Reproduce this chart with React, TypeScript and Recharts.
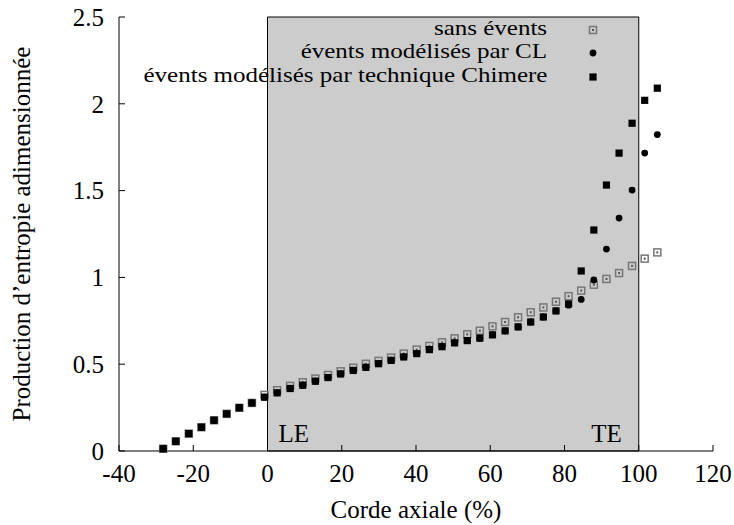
import {
  ScatterChart,
  Scatter,
  XAxis,
  YAxis,
  ReferenceArea,
  Legend,
} from "recharts";

const xs = [
  -28.1, -24.7, -21.2, -17.8, -14.4, -11.0, -7.6, -4.2, -0.8, 2.6,
  6.1, 9.5, 12.9, 16.3, 19.7, 23.1, 26.5, 29.9, 33.3, 36.7,
  40.2, 43.6, 47.0, 50.4, 53.8, 57.2, 60.6, 64.0, 67.5, 70.9,
  74.3, 77.7, 81.1, 84.5, 87.9, 91.3, 94.7, 98.2, 101.6, 105.0,
];

const sansEvents = [
  0.013, 0.056, 0.1, 0.137, 0.177, 0.214, 0.249, 0.277, 0.323, 0.35,
  0.375, 0.396, 0.417, 0.438, 0.459, 0.48, 0.502, 0.519, 0.538, 0.561,
  0.584, 0.605, 0.626, 0.649, 0.672, 0.693, 0.718, 0.743, 0.77, 0.799,
  0.827, 0.86, 0.892, 0.924, 0.958, 0.991, 1.025, 1.066, 1.108, 1.144,
];

const eventsCL = [
  0.013, 0.056, 0.1, 0.137, 0.177, 0.214, 0.249, 0.277, 0.31, 0.335,
  0.36, 0.379, 0.402, 0.423, 0.444, 0.464, 0.482, 0.503, 0.522, 0.542,
  0.561, 0.584, 0.601, 0.623, 0.636, 0.65, 0.669, 0.692, 0.715, 0.743,
  0.772, 0.807, 0.84, 0.873, 0.985, 1.163, 1.342, 1.503, 1.716, 1.823,
];

const eventsChimere = [
  0.013, 0.056, 0.1, 0.137, 0.177, 0.214, 0.249, 0.277, 0.31, 0.335,
  0.36, 0.379, 0.402, 0.423, 0.444, 0.464, 0.482, 0.503, 0.522, 0.542,
  0.561, 0.584, 0.601, 0.623, 0.636, 0.65, 0.669, 0.692, 0.715, 0.743,
  0.772, 0.807, 0.847, 1.037, 1.273, 1.532, 1.716, 1.888, 2.02, 2.09,
];

const seriesNames = [
  "sans évents",
  "évents modélisés par CL",
  "évents modélisés par technique Chimere",
];

const xTicks = [-40, -20, 0, 20, 40, 60, 80, 100, 120];
const yTicks = [0, 0.5, 1, 1.5, 2, 2.5];

const FONT = "Liberation Serif";
const FS = 25;

const toPoints = (ys: number[]) => xs.map((x, i) => ({ x, y: ys[i] }));

const OpenSquare = (p: any) => (
  <g>
    <rect x={p.cx - 3.5} y={p.cy - 3.5} width={7} height={7} fill="none" stroke="#777" strokeWidth={1.5} />
    <rect x={p.cx - 1} y={p.cy - 1} width={2} height={2} fill="#555" />
  </g>
);

const Dot = (p: any) => <circle cx={p.cx} cy={p.cy} r={3.4} fill="#000" />;

const FilledSquare = (p: any) => (
  <rect x={p.cx - 3.6} y={p.cy - 3.6} width={7.2} height={7.2} fill="#000" />
);

const markers = [OpenSquare, Dot, FilledSquare];
const rowY = [29.5, 53, 77];

// legend text: slightly smaller font stretched sideways, so rows don't collide
const renderLegend = () => (
  <div style={{ position: "relative", width: 734, height: 100, fontFamily: FONT, fontSize: 21, color: "#000" }}>
    {seriesNames.map((name, i) => {
      const M = markers[i];
      return (
        <div key={name}>
          <div
            style={{
              position: "absolute",
              right: 734 - 547,
              top: rowY[i] - 13,
              lineHeight: "23px",
              whiteSpace: "nowrap",
              transform: "scaleX(1.19)",
              transformOrigin: "right center",
            }}
          >
            {name}
          </div>
          <svg style={{ position: "absolute", left: 583, top: rowY[i] - 10 }} width={20} height={20}>
            <M cx={10} cy={10} />
          </svg>
        </div>
      );
    })}
  </div>
);

const AreaLabels = (props: any) => {
  const vb = props.viewBox;
  if (!vb) return null;
  const base = vb.y + vb.height - 9;
  return (
    <g fontFamily={FONT} fontSize={FS} fill="#000">
      <text x={vb.x + 11} y={base}>LE</text>
      <text x={vb.x + vb.width - 17} y={base} textAnchor="end">TE</text>
    </g>
  );
};

export default function App() {
  const tickStyle = { fontFamily: FONT, fontSize: FS, fill: "#000" };
  return (
    <div style={{ position: "absolute", left: 0, top: 0, background: "#fff" }}>
      <ScatterChart width={734} height={525} margin={{ top: 17, right: 21, bottom: 0, left: 0 }}>
        <XAxis
          xAxisId="b"
          type="number"
          dataKey="x"
          domain={[-40, 120]}
          ticks={xTicks}
          interval={0}
          height={74}
          tickSize={-6}
          tickMargin={19}
          tick={tickStyle}
          stroke="#000"
          label={{ value: "Corde axiale (%)", position: "insideBottom", offset: 7, style: { fontFamily: FONT, fontSize: FS, fill: "#000" } }}
        />
        <XAxis
          xAxisId="t"
          orientation="top"
          type="number"
          domain={[-40, 120]}
          ticks={xTicks}
          interval={0}
          height={0}
          tickSize={-6}
          tick={false}
          stroke="#000"
          allowDataOverflow
        />
        <YAxis
          yAxisId="l"
          type="number"
          dataKey="y"
          domain={[0, 2.5]}
          ticks={yTicks}
          interval={0}
          width={119}
          tickSize={-6}
          tickMargin={21}
          tick={tickStyle}
          stroke="#000"
          label={{
            value: "Production d’entropie adimensionnée",
            angle: -90,
            position: "insideLeft",
            offset: 21,
            style: { textAnchor: "middle", fontFamily: FONT, fontSize: FS, fill: "#000" },
          }}
        />
        <YAxis
          yAxisId="r"
          orientation="right"
          type="number"
          domain={[0, 2.5]}
          ticks={yTicks}
          interval={0}
          width={0}
          tickSize={-6}
          tick={false}
          stroke="#000"
          allowDataOverflow
        />
        <ReferenceArea
          xAxisId="b"
          yAxisId="l"
          x1={0}
          x2={100}
          fill="#cccccc"
          fillOpacity={1}
          stroke="#000"
          strokeWidth={1}
          label={AreaLabels}
        />
        <Scatter xAxisId="b" yAxisId="l" name={seriesNames[0]} data={toPoints(sansEvents)} shape={OpenSquare} isAnimationActive={false} />
        <Scatter xAxisId="b" yAxisId="l" name={seriesNames[1]} data={toPoints(eventsCL)} shape={Dot} isAnimationActive={false} />
        <Scatter xAxisId="b" yAxisId="l" name={seriesNames[2]} data={toPoints(eventsChimere)} shape={FilledSquare} isAnimationActive={false} />
        <Legend
          layout="horizontal"
          verticalAlign="middle"
          align="center"
          content={renderLegend}
          wrapperStyle={{ top: 0, left: 0, width: 734, height: 100 }}
        />
      </ScatterChart>
    </div>
  );
}
